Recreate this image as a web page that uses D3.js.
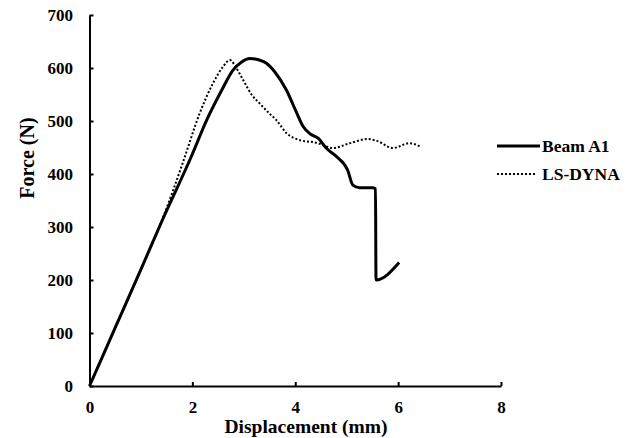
<!DOCTYPE html>
<html><head><meta charset="utf-8">
<script src="https://cdn.jsdelivr.net/npm/d3@7"></script>
<style>body{margin:0;background:#fff;} text{font-family:"Liberation Serif","Times New Roman",serif;font-weight:bold;fill:#000;}</style>
</head><body>
<svg id="c" width="632" height="438"></svg>
<script>
const xTicks = [0, 2, 4, 6, 8];
const yTicks = [0, 100, 200, 300, 400, 500, 600, 700];
const seriesNames = ["Beam A1", "LS-DYNA"];
const beamA1 = [[0,0],[0.5,110],[1.0,220],[1.43,316],[1.98,433],[2.28,502],[2.57,558],[2.79,596],[2.95,611],[3.12,618],[3.3,615],[3.44,609],[3.6,593],[3.83,558],[4.02,517],[4.15,490],[4.3,475],[4.45,467],[4.6,449],[4.8,433],[5.02,407],[5.12,379],[5.25,374],[5.5,374],[5.56,372],[5.57,200],[6.02,233]];
const lsDyna = [[0,0],[0.5,110],[1.0,220],[1.43,318],[1.82,423],[2.14,514],[2.4,571],[2.6,603],[2.73,615],[2.86,599],[2.99,577],[3.15,550],[3.31,533],[3.5,514],[3.63,502],[3.83,477],[4.09,464],[4.41,459],[4.73,449],[5.06,458],[5.41,466],[5.6,462],[5.9,449],[6.22,458],[6.45,451]];

const svg = d3.select("#c");
const x = d3.scaleLinear().domain([0,8]).range([89.5,501]);
const y = d3.scaleLinear().domain([0,700]).range([386,15]);

const xa = svg.append("g").attr("transform","translate(0,386)")
  .call(d3.axisBottom(x).tickValues(xTicks).tickSizeInner(-4).tickSizeOuter(0).tickPadding(15));
const ya = svg.append("g").attr("transform","translate(89.5,0)")
  .call(d3.axisLeft(y).tickValues(yTicks).tickSizeInner(-4).tickSizeOuter(0).tickPadding(16.5));
[xa,ya].forEach(a=>{
  a.select(".domain").attr("stroke","#000").attr("stroke-width",2);
  a.selectAll(".tick line").attr("stroke","#000").attr("stroke-width",2);
  a.selectAll(".tick text").style("font-size","17px").style("font-family","Liberation Serif").style("font-weight","bold");
});

const line = d3.line().x(d=>x(d[0])).y(d=>y(d[1])).curve(d3.curveMonotoneX);
svg.append("path").datum(lsDyna).attr("d",line).attr("fill","none").attr("stroke","#000")
  .attr("stroke-width",2).attr("stroke-dasharray","2,2");
svg.append("path").datum(beamA1).attr("d",line).attr("fill","none").attr("stroke","#000")
  .attr("stroke-width",3).attr("stroke-linejoin","round");

svg.append("text").attr("x",306).attr("y",433).attr("text-anchor","middle").style("font-size","19.5px").text("Displacement (mm)");
svg.append("text").attr("transform","translate(34,158) rotate(-90)").attr("text-anchor","middle").style("font-size","20px").text("Force (N)");

const lg = [{y:146, dash:null, w:3, x2:540},{y:174, dash:"2,2", w:2, x2:535}];
lg.forEach((l,i)=>{
  svg.append("line").attr("x1",497).attr("x2",l.x2).attr("y1",l.y).attr("y2",l.y)
    .attr("stroke","#000").attr("stroke-width",l.w).attr("stroke-dasharray",l.dash);
  svg.append("text").attr("x",542).attr("y",l.y+6).style("font-size","17.5px").text(seriesNames[i]);
});
</script>
</body></html>
